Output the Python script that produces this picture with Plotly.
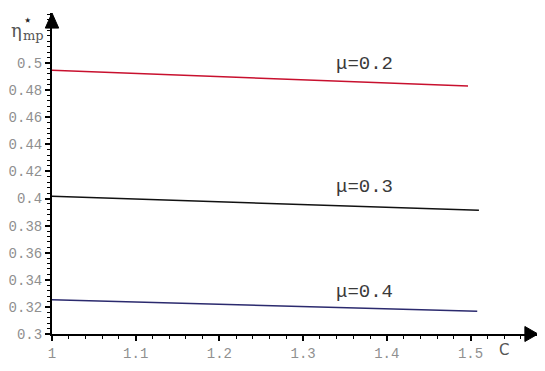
import plotly.graph_objects as go

# curves: eta*_mp against C for three mu values
c_mu02 = [1.0, 1.497]
eta_mu02 = [0.4946, 0.4830]
c_mu03 = [1.0, 1.51]
eta_mu03 = [0.4016, 0.3913]
c_mu04 = [1.0, 1.508]
eta_mu04 = [0.3253, 0.3167]

curve_labels = ["μ=0.2", "μ=0.3", "μ=0.4"]
label_c = [1.373, 1.373, 1.373]
label_eta = [0.4993, 0.4085, 0.3310]

x_ticks = [1.0, 1.1, 1.2, 1.3, 1.4, 1.5]
x_ticktext = ["1", "1.1", "1.2", "1.3", "1.4", "1.5"]
y_ticks = [0.3, 0.32, 0.34, 0.36, 0.38, 0.4, 0.42, 0.44, 0.46, 0.48, 0.5]
y_ticktext = ["0.3", "0.32", "0.34", "0.36", "0.38", "0.4", "0.42", "0.44", "0.46", "0.48", "0.5"]

mono = "Liberation Mono"
grey = "#8f8f8f"

fig = go.Figure()
fig.add_trace(go.Scatter(x=c_mu02, y=eta_mu02, mode="lines", line=dict(color="#c8102e", width=1.5)))
fig.add_trace(go.Scatter(x=c_mu03, y=eta_mu03, mode="lines", line=dict(color="#111111", width=1.5)))
fig.add_trace(go.Scatter(x=c_mu04, y=eta_mu04, mode="lines", line=dict(color="#2b2a6e", width=1.5)))

for txt, cx, cy in zip(curve_labels, label_c, label_eta):
    fig.add_annotation(x=cx, y=cy, text=txt, showarrow=False,
                       font=dict(family=mono, size=19, color="#3a3a3a"))

# axis title pieces (paper coords; plot area is 486 x 321 px)
fig.add_annotation(xref="paper", yref="paper", x=-0.073, y=0.944, xanchor="center", yanchor="middle",
                   text="η", showarrow=False, font=dict(family="DejaVu Serif", size=18, color="#555555"))
fig.add_annotation(xref="paper", yref="paper", x=-0.050, y=0.977, xanchor="center", yanchor="middle",
                   text="⋆", showarrow=False, font=dict(family="DejaVu Sans", size=15, color="#222222"))
fig.add_annotation(xref="paper", yref="paper", x=-0.038, y=0.931, xanchor="center", yanchor="middle",
                   text="mp", showarrow=False, font=dict(family="DejaVu Serif", size=13, color="#555555"))
fig.add_annotation(xref="paper", yref="paper", x=0.93, y=-0.05, xanchor="center", yanchor="middle",
                   text="C", showarrow=False, font=dict(family="DejaVu Sans", size=15, color="#555555"))

# arrow heads on the axes
fig.add_shape(type="path", xref="paper", yref="paper",
              path="M 0 1 L -0.0138 0.953 L 0.0138 0.953 Z",
              fillcolor="black", line=dict(color="black", width=1))
fig.add_shape(type="path", xref="paper", yref="paper",
              path="M 1 0 L 0.973 0.0234 L 0.973 -0.0234 Z",
              fillcolor="black", line=dict(color="black", width=1))

# the page body adds an 8px margin, so the figure is sized to fit inside it
fig.update_layout(
    width=530, height=355,
    margin=dict(l=44, r=0, t=5, b=29, autoexpand=False),
    paper_bgcolor="white", plot_bgcolor="white",
    showlegend=False,
    xaxis=dict(range=[1.0, 1.5806], showgrid=False, zeroline=False, automargin=False,
               showline=True, linecolor="black", linewidth=2,
               tickmode="array", tickvals=x_ticks, ticktext=x_ticktext,
               ticks="outside", ticklen=5, tickwidth=1.5, tickcolor="black",
               minor=dict(tickmode="linear", dtick=0.02, tick0=1.0, ticks="outside", ticklen=3,
                          tickcolor="black", tickwidth=1),
               tickfont=dict(family=mono, size=14, color=grey)),
    yaxis=dict(range=[0.3, 0.5369], showgrid=False, zeroline=False, automargin=False,
               showline=True, linecolor="black", linewidth=2,
               tickmode="array", tickvals=y_ticks, ticktext=y_ticktext,
               ticks="outside", ticklen=5, tickwidth=1.5, tickcolor="black",
               minor=dict(tickmode="linear", dtick=0.004, tick0=0.3, ticks="outside", ticklen=3,
                          tickcolor="black", tickwidth=1),
               tickfont=dict(family=mono, size=14, color=grey)),
)

fig.write_html("out.html")
